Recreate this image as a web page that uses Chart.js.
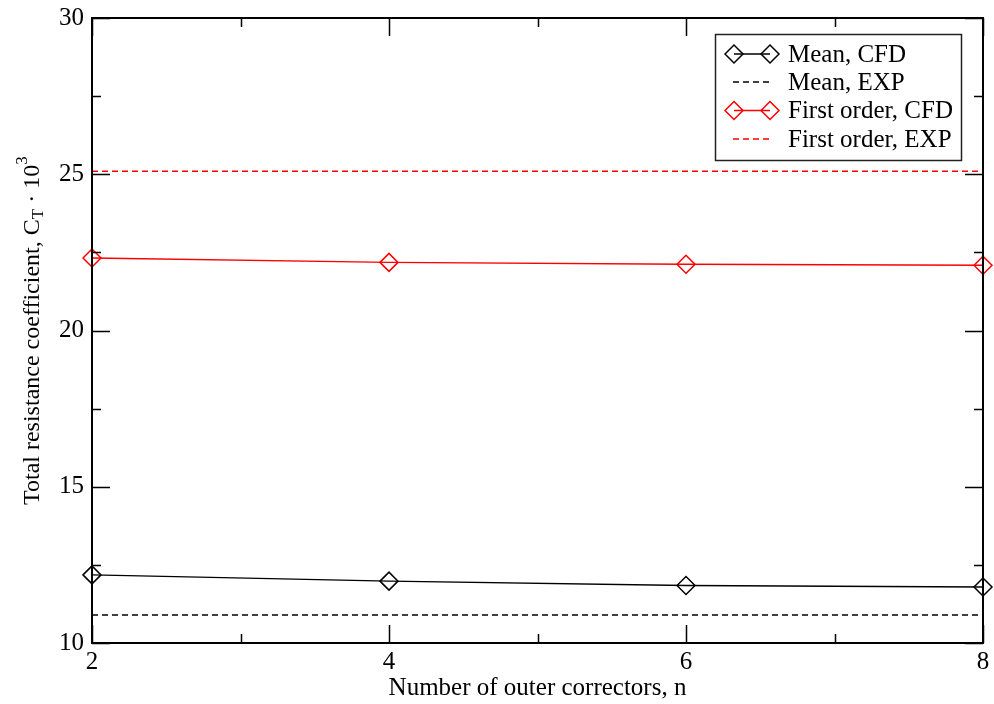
<!DOCTYPE html>
<html><head><meta charset="utf-8">
<script src="https://cdn.jsdelivr.net/npm/chart.js@4/dist/chart.umd.min.js"></script>
<style>html,body{margin:0;padding:0;background:#fff;}#wrap{width:994px;height:704px;}</style>
</head><body><div id="wrap"><canvas id="c" width="994" height="704"></canvas></div>
<script>
// ---- data ----
const correctors = [2, 4, 6, 8];
const meanCFD = [12.18, 11.98, 11.84, 11.79];
const firstOrderCFD = [22.32, 22.18, 22.12, 22.09];
const meanEXP = [10.9, 10.9];
const firstOrderEXP = [25.1, 25.1];
const expRange = [2, 8];
const xTicks = [2, 4, 6, 8];
const yTicks = [10, 15, 20, 25, 30];
const xMinorTicks = [3, 5, 7];
const yMinorTicks = [12.5, 17.5, 22.5, 27.5];
const seriesLabels = ['Mean, CFD', 'Mean, EXP', 'First order, CFD', 'First order, EXP'];
const xTitle = 'Number of outer correctors, n';
const yTitleParts = [
  {t: 'Total resistance coefficient, C', m: 'n'},
  {t: 'T', m: 'sub'},
  {t: ' \u00B7 10', m: 'n'},
  {t: '3', m: 'sup'}
];

const FONT = '"Liberation Serif", "Times New Roman", serif';
const pts = (xs, ys) => xs.map((x, i) => ({x: x, y: ys[i]}));

const framePlugin = {
  id: 'frame',
  afterDatasetsDraw(chart) {
    const ctx = chart.ctx, a = chart.chartArea;
    const xs = chart.scales.x, ys = chart.scales.y;
    ctx.save();
    ctx.strokeStyle = '#000';
    ctx.lineWidth = 2;
    ctx.strokeRect(a.left, a.top, a.right - a.left, a.bottom - a.top);
    ctx.lineWidth = 1.5;
    ctx.beginPath();
    const tx = (v, len) => {
      const p = Math.round(xs.getPixelForValue(v)) + 0.5;
      ctx.moveTo(p, a.bottom); ctx.lineTo(p, a.bottom - len);
      ctx.moveTo(p, a.top); ctx.lineTo(p, a.top + len);
    };
    const ty = (v, len) => {
      const p = Math.round(ys.getPixelForValue(v)) + 0.5;
      ctx.moveTo(a.left, p); ctx.lineTo(a.left + len, p);
      ctx.moveTo(a.right, p); ctx.lineTo(a.right - len, p);
    };
    xTicks.forEach(v => tx(v, 18));
    xMinorTicks.forEach(v => tx(v, 9));
    yTicks.forEach(v => ty(v, 18));
    yMinorTicks.forEach(v => ty(v, 9));
    ctx.stroke();
    ctx.restore();
  },
  afterDraw(chart) {
    const ctx = chart.ctx, a = chart.chartArea;
    ctx.save();
    ctx.fillStyle = '#000';
    // x title
    ctx.font = '25px ' + FONT;
    ctx.textAlign = 'center';
    ctx.textBaseline = 'middle';
    ctx.fillText(xTitle, (a.left + a.right) / 2, 688);
    // y title with sub/superscript
    ctx.translate(33, 0);
    ctx.rotate(-Math.PI / 2);
    ctx.textAlign = 'left';
    ctx.textBaseline = 'middle';
    let u = -505;
    yTitleParts.forEach(p => {
      let v = 0;
      if (p.m === 'n') ctx.font = '24px ' + FONT;
      else ctx.font = '17px ' + FONT;
      if (p.m === 'sub') v = 6;
      if (p.m === 'sup') v = -10;
      ctx.fillText(p.t, u, v);
      u += ctx.measureText(p.t).width;
    });
    ctx.restore();

    // legend
    ctx.save();
    ctx.strokeStyle = '#222';
    ctx.lineWidth = 1.5;
    ctx.strokeRect(715.5, 34.5, 246, 126);
    const rows = [54, 82, 110.5, 139];
    chart.data.datasets.forEach((ds, i) => {
      const y = rows[i];
      ctx.strokeStyle = ds.borderColor;
      ctx.lineWidth = 1.5;
      if (ds.borderDash && ds.borderDash.length) {
        ctx.setLineDash(ds.borderDash);
        ctx.beginPath(); ctx.moveTo(733, y); ctx.lineTo(771, y); ctx.stroke();
        ctx.setLineDash([]);
      } else {
        ctx.beginPath(); ctx.moveTo(734, y); ctx.lineTo(770, y); ctx.stroke();
        [734, 770].forEach(cx => {
          ctx.beginPath();
          ctx.moveTo(cx - 9, y); ctx.lineTo(cx, y - 9); ctx.lineTo(cx + 9, y); ctx.lineTo(cx, y + 9);
          ctx.closePath(); ctx.stroke();
        });
      }
      ctx.fillStyle = '#000';
      ctx.font = '25px ' + FONT;
      ctx.textAlign = 'left';
      ctx.textBaseline = 'middle';
      ctx.fillText(ds.label, 788, y + 1);
    });
    ctx.restore();
  }
};

const cfdStyle = (color) => ({
  borderColor: color, backgroundColor: 'transparent', borderWidth: 1.5,
  pointStyle: 'rectRot', pointRadius: 9, pointHoverRadius: 9, pointBorderWidth: 1.5,
  pointBorderColor: color, pointBackgroundColor: 'rgba(0,0,0,0)', clip: false, tension: 0
});
const expStyle = (color) => ({
  borderColor: color, backgroundColor: 'transparent', borderWidth: 1.5,
  borderDash: [6, 4], pointRadius: 0, pointHoverRadius: 0, clip: false, tension: 0
});

const noPad = s => { s.paddingTop = 0; s.paddingBottom = 0; s.paddingLeft = 0; s.paddingRight = 0; };

new Chart(document.getElementById('c'), {
  type: 'line',
  data: {
    datasets: [
      Object.assign({label: seriesLabels[0], data: pts(correctors, meanCFD)}, cfdStyle('#000000')),
      Object.assign({label: seriesLabels[1], data: pts(expRange, meanEXP)}, expStyle('#000000')),
      Object.assign({label: seriesLabels[2], data: pts(correctors, firstOrderCFD)}, cfdStyle('#ff0000')),
      Object.assign({label: seriesLabels[3], data: pts(expRange, firstOrderEXP)}, expStyle('#ff0000'))
    ]
  },
  options: {
    responsive: false,
    devicePixelRatio: 1,
    animation: false,
    events: [],
    layout: {padding: {left: 0, right: 11, top: 18, bottom: 0}},
    plugins: {legend: {display: false}, tooltip: {enabled: false}, title: {display: false}},
    scales: {
      x: {
        type: 'linear', min: 2, max: 8,
        afterBuildTicks: s => { s.ticks = xTicks.map(v => ({value: v})); },
        afterFit: s => { s.height = 61; noPad(s); },
        grid: {display: false, drawTicks: false},
        border: {display: false},
        ticks: {color: '#000', font: {family: FONT, size: 25}, padding: 4, maxRotation: 0, autoSkip: false}
      },
      y: {
        type: 'linear', min: 10, max: 30,
        afterBuildTicks: s => { s.ticks = yTicks.map(v => ({value: v})); },
        afterFit: s => { s.width = 92; noPad(s); },
        grid: {display: false, drawTicks: false},
        border: {display: false},
        ticks: {color: '#000', font: {family: FONT, size: 25}, padding: 8, autoSkip: false}
      }
    }
  },
  plugins: [framePlugin]
});
</script></body></html>
